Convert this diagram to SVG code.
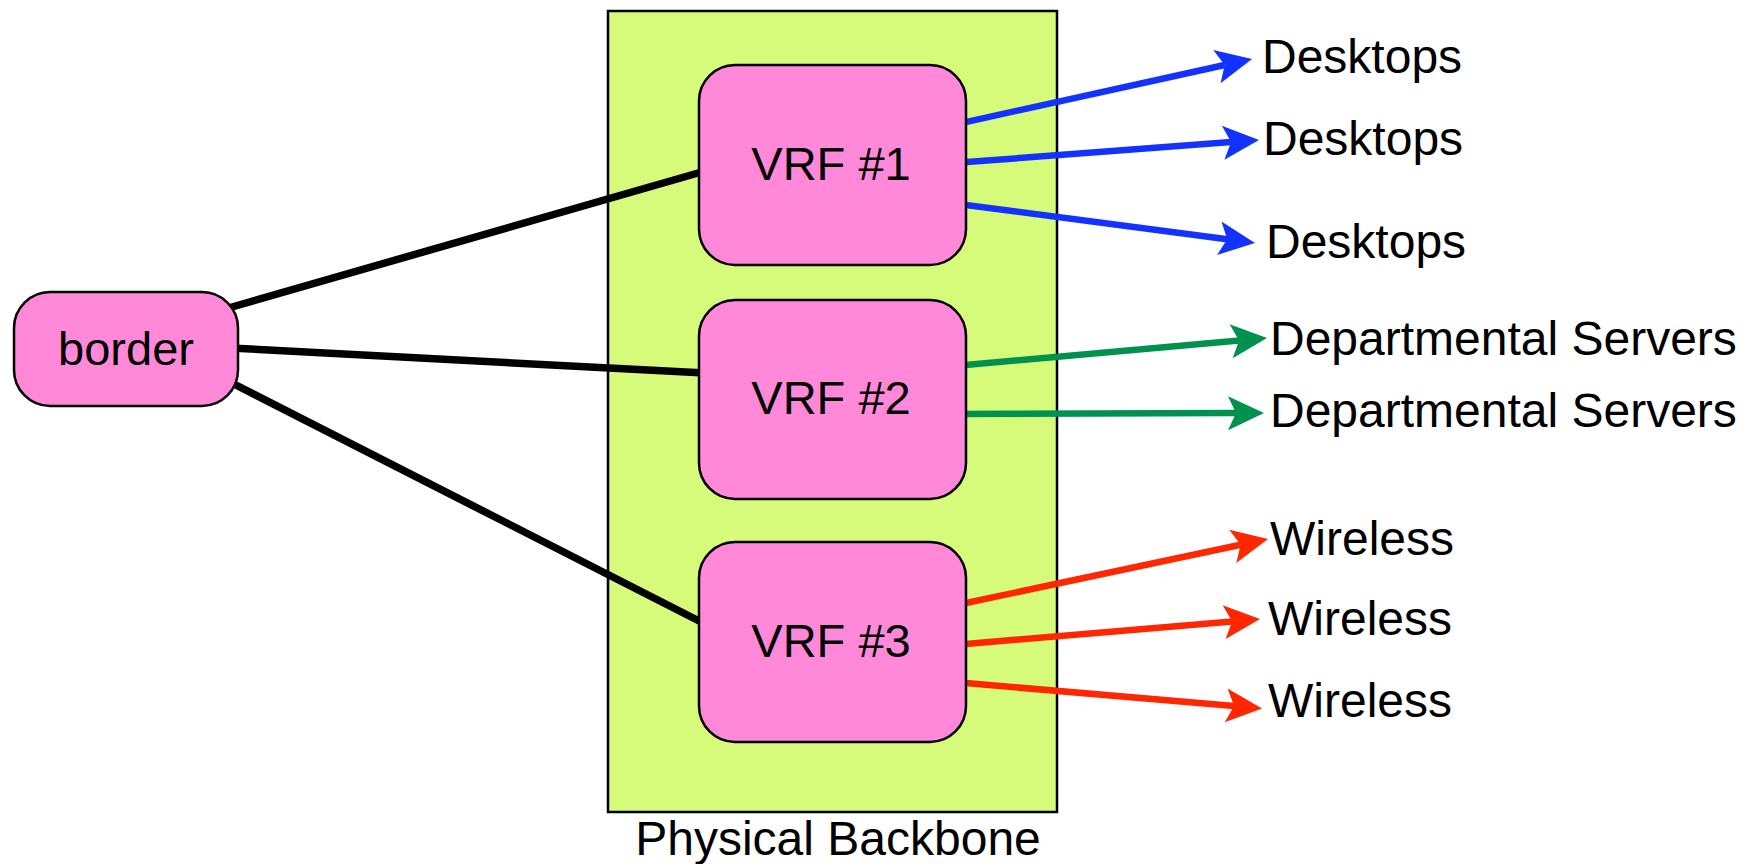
<svg xmlns="http://www.w3.org/2000/svg" width="1743" height="864" viewBox="0 0 1743 864">
<style>
text{font-family:"Liberation Sans",Arial,sans-serif;fill:#000}
.node{fill:#ff88d8;stroke:#000;stroke-width:2.5}
.lbl{font-size:47px;text-anchor:middle}
.out{font-size:48px}
.blk{stroke:#000;stroke-width:7.5;fill:none}
.blue{stroke:#1432ff;stroke-width:6.5;fill:none;marker-end:url(#ab)}
.green{stroke:#00914f;stroke-width:6.5;fill:none;marker-end:url(#ag)}
.red{stroke:#ff2600;stroke-width:6.5;fill:none;marker-end:url(#ar)}
</style>
<defs>
<marker id="ab" markerUnits="userSpaceOnUse" markerWidth="40" markerHeight="40" refX="8" refY="20" orient="auto" overflow="visible"><path d="M0,3 L36,20 L0,37 L8,20 Z" fill="#1432ff"/></marker>
<marker id="ag" markerUnits="userSpaceOnUse" markerWidth="40" markerHeight="40" refX="8" refY="20" orient="auto" overflow="visible"><path d="M0,3 L36,20 L0,37 L8,20 Z" fill="#00914f"/></marker>
<marker id="ar" markerUnits="userSpaceOnUse" markerWidth="40" markerHeight="40" refX="8" refY="20" orient="auto" overflow="visible"><path d="M0,3 L36,20 L0,37 L8,20 Z" fill="#ff2600"/></marker>
</defs>
<g id="backbone">
<rect x="608" y="11" width="449" height="801" fill="#d6fa7a" stroke="#000" stroke-width="2.5"/>
<text x="838" y="855" class="out" text-anchor="middle">Physical Backbone</text>
</g>
<g id="connectors">
<line class="blk" x1="225" y1="309" x2="705" y2="171"/>
<line class="blk" x1="230" y1="348" x2="705" y2="373"/>
<line class="blk" x1="228" y1="381" x2="705" y2="624"/>
<line class="blue" x1="960" y1="123.3" x2="1224.7" y2="65"/>
<line class="blue" x1="960" y1="162.5" x2="1231.1" y2="142.1"/>
<line class="blue" x1="960" y1="204.2" x2="1227.2" y2="239.3"/>
<line class="green" x1="960" y1="365.5" x2="1239.1" y2="340.5"/>
<line class="green" x1="960" y1="414" x2="1236" y2="413.1"/>
<line class="red" x1="960" y1="604.3" x2="1240.6" y2="544.8"/>
<line class="red" x1="960" y1="644.5" x2="1232.1" y2="621.4"/>
<line class="red" x1="960" y1="682.6" x2="1234.1" y2="706"/>
</g>
<g id="border">
<rect class="node" x="14" y="292" width="224" height="114" rx="36" ry="36"/>
<text class="lbl" x="126" y="365">border</text>
</g>
<g id="vrf1">
<rect class="node" x="699" y="65" width="267" height="200" rx="36" ry="36"/>
<text class="lbl" x="831" y="180">VRF #1</text>
</g>
<g id="vrf2">
<rect class="node" x="699" y="300" width="267" height="199" rx="36" ry="36"/>
<text class="lbl" x="831" y="414">VRF #2</text>
</g>
<g id="vrf3">
<rect class="node" x="699" y="542" width="267" height="200" rx="36" ry="36"/>
<text class="lbl" x="831" y="657">VRF #3</text>
</g>
<g id="desktops1"><text class="out" x="1262" y="73">Desktops</text></g>
<g id="desktops2"><text class="out" x="1263" y="155">Desktops</text></g>
<g id="desktops3"><text class="out" x="1266" y="258">Desktops</text></g>
<g id="servers1"><text class="out" x="1270" y="355">Departmental Servers</text></g>
<g id="servers2"><text class="out" x="1270" y="427">Departmental Servers</text></g>
<g id="wireless1"><text class="out" x="1270" y="555">Wireless</text></g>
<g id="wireless2"><text class="out" x="1268" y="635">Wireless</text></g>
<g id="wireless3"><text class="out" x="1268" y="717">Wireless</text></g>
</svg>
